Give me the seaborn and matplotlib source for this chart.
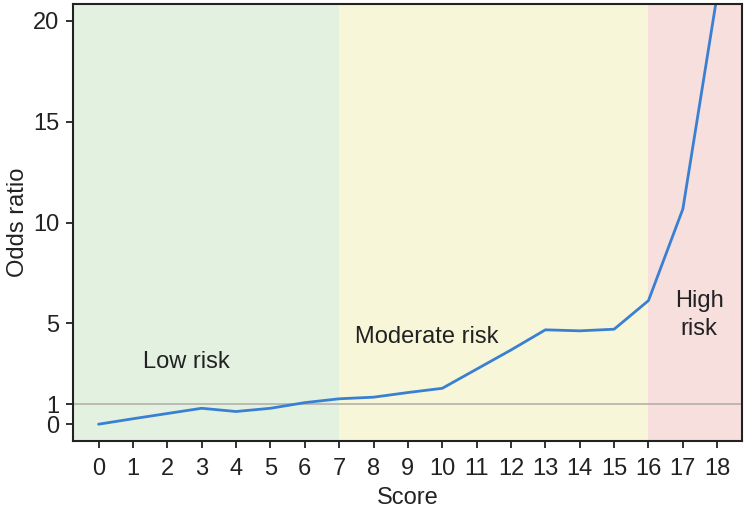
import pandas as pd
import matplotlib.pyplot as plt
import seaborn as sns
sns.set_theme(style='ticks')
plt.rcParams['font.family'] = ['Liberation Sans', 'DejaVu Sans']

# Data
scores = list(range(19))
odds_ratio = [0.0, 0.27, 0.53, 0.79, 0.63, 0.79, 1.07, 1.26, 1.34, 1.57, 1.78,
              2.73, 3.68, 4.68, 4.63, 4.71, 6.13, 10.67, 21.3]
zones = [(-0.74, 7, '#e3f2e0'), (7, 16, '#f7f6d8'), (16, 18.72, '#f6dfdd')]
zone_labels = ['Low risk', 'Moderate risk', 'High\nrisk']
zone_label_pos = [(2.55, 3.1), (9.55, 4.3), (17.47, 5.4)]

df = pd.DataFrame({'Score': scores, 'Odds ratio': odds_ratio})

fig, ax = plt.subplots(figsize=(7.46, 5.08), dpi=100)
fig.subplots_adjust(left=0.098, right=0.9946, bottom=0.132, top=0.9915)

for x0, x1, c in zones:
    ax.axvspan(x0, x1, color=c, lw=0, zorder=0)
ax.axhline(1, color='#b5b0aa', lw=1.2, zorder=1)
sns.lineplot(data=df, x='Score', y='Odds ratio', ax=ax, color='#3a80d2', lw=2, zorder=2)

for (tx, ty), lab in zip(zone_label_pos, zone_labels):
    ax.text(tx, ty, lab, ha='center', va='center', fontsize=17, color='#222222',
            linespacing=1.35)

ax.set_xlim(-0.74, 18.72)
ax.set_ylim(-0.83, 20.82)
ax.set_xticks(scores)
ax.set_yticks([0, 1, 5, 10, 15, 20])
ax.tick_params(labelsize=17, length=5, width=1.3, pad=5, color='#222222', labelcolor='#222222')
ax.tick_params(axis='x', pad=7)
ax.set_xlabel('Score', fontsize=17, color='#222222', labelpad=5)
ax.set_ylabel('Odds ratio', fontsize=17, color='#222222', labelpad=3)
for s in ax.spines.values():
    s.set_color('#222222')
    s.set_linewidth(1.5)
plt.savefig('out.png', dpi=100)
